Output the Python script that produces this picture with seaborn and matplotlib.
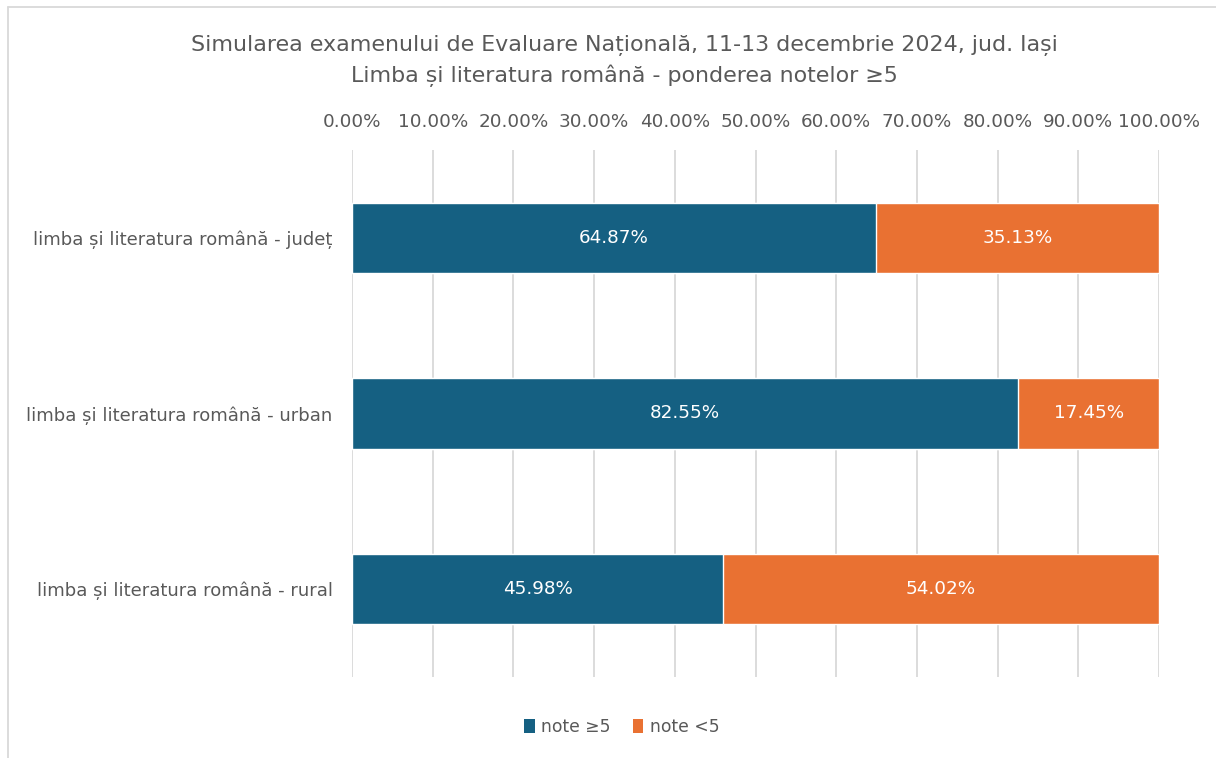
import matplotlib
matplotlib.use("Agg")
import matplotlib.pyplot as plt
import seaborn as sns
import pandas as pd
from matplotlib.lines import Line2D
from matplotlib.patches import Patch

# --- date ---
categorii = ["limba și literatura română - județ",
             "limba și literatura română - urban",
             "limba și literatura română - rural"]
note_peste5 = [64.87, 82.55, 45.98]
note_sub5 = [35.13, 17.45, 54.02]
serii = ["note ≥5", "note <5"]
culori = ["#156082", "#E97132"]

TEXT = "#595959"
GRID = "#D9D9D9"
FS = 13.2

sns.set_theme(style="white")
plt.rcParams['font.family'] = ['DejaVu Sans']

df = pd.DataFrame({"categorie": categorii,
                   "peste5": note_peste5,
                   "sub5": note_sub5})
df["total"] = df["peste5"] + df["sub5"]

fig = plt.figure(figsize=(12.16, 7.58), dpi=100)
W, H = 1216, 758
ax = fig.add_axes([352 / W, 1 - 677 / H, (1159 - 352) / W, (677 - 150) / H])

# stivuit: mai intai totalul (portocaliu), apoi partea albastra peste
sns.barplot(data=df, x="total", y="categorie", color=culori[1], width=0.4,
            orient="h", ax=ax, saturation=1)
sns.barplot(data=df, x="peste5", y="categorie", color=culori[0], width=0.4,
            orient="h", ax=ax, saturation=1)

ax.set_xlim(0, 100)
ax.set_ylim(2.5, -0.5)
ax.set_xticks(range(0, 101, 10))
ax.set_xticklabels([f"{v:.2f}%" for v in range(0, 101, 10)])
ax.xaxis.tick_top()
ax.tick_params(axis="x", length=0, pad=14, labelsize=FS, labelcolor=TEXT)
ax.tick_params(axis="y", length=0, pad=14, labelsize=13, labelcolor=TEXT)
ax.grid(axis="x", color=GRID, linewidth=1.3)
ax.set_axisbelow(True)
for s in ax.spines.values():
    s.set_visible(False)
ax.set_xlabel("")
ax.set_ylabel("")

# etichete de date
for i in range(len(categorii)):
    a, b = note_peste5[i], note_sub5[i]
    ax.text(a / 2, i, f"{a:.2f}%", ha="center", va="center",
            color="white", fontsize=FS)
    ax.text(a + b / 2, i, f"{b:.2f}%", ha="center", va="center",
            color="white", fontsize=FS)

fig.text(624 / W, 1 - 45 / H,
         "Simularea examenului de Evaluare Națională, 11-13 decembrie 2024, jud. Iași",
         ha="center", va="center", fontsize=15.9, color=TEXT)
fig.text(624 / W, 1 - 76 / H,
         "Limba și literatura română - ponderea notelor ≥5",
         ha="center", va="center", fontsize=15.9, color=TEXT)

handles = [Patch(facecolor=c, edgecolor="none") for c in culori]
fig.legend(handles, serii, loc="center", bbox_to_anchor=(622 / W, 1 - 727 / H),
           ncol=2, frameon=False, fontsize=12.3, labelcolor=TEXT,
           handlelength=0.6, handleheight=0.9, handletextpad=0.4, columnspacing=1.3)

# chenarul graficului
fig.add_artist(Line2D([8 / W, 1], [1 - 7 / H, 1 - 7 / H], color=GRID, linewidth=1.3))
fig.add_artist(Line2D([8 / W, 8 / W], [0, 1 - 7 / H], color=GRID, linewidth=1.3))

fig.savefig("out.png", dpi=100)
